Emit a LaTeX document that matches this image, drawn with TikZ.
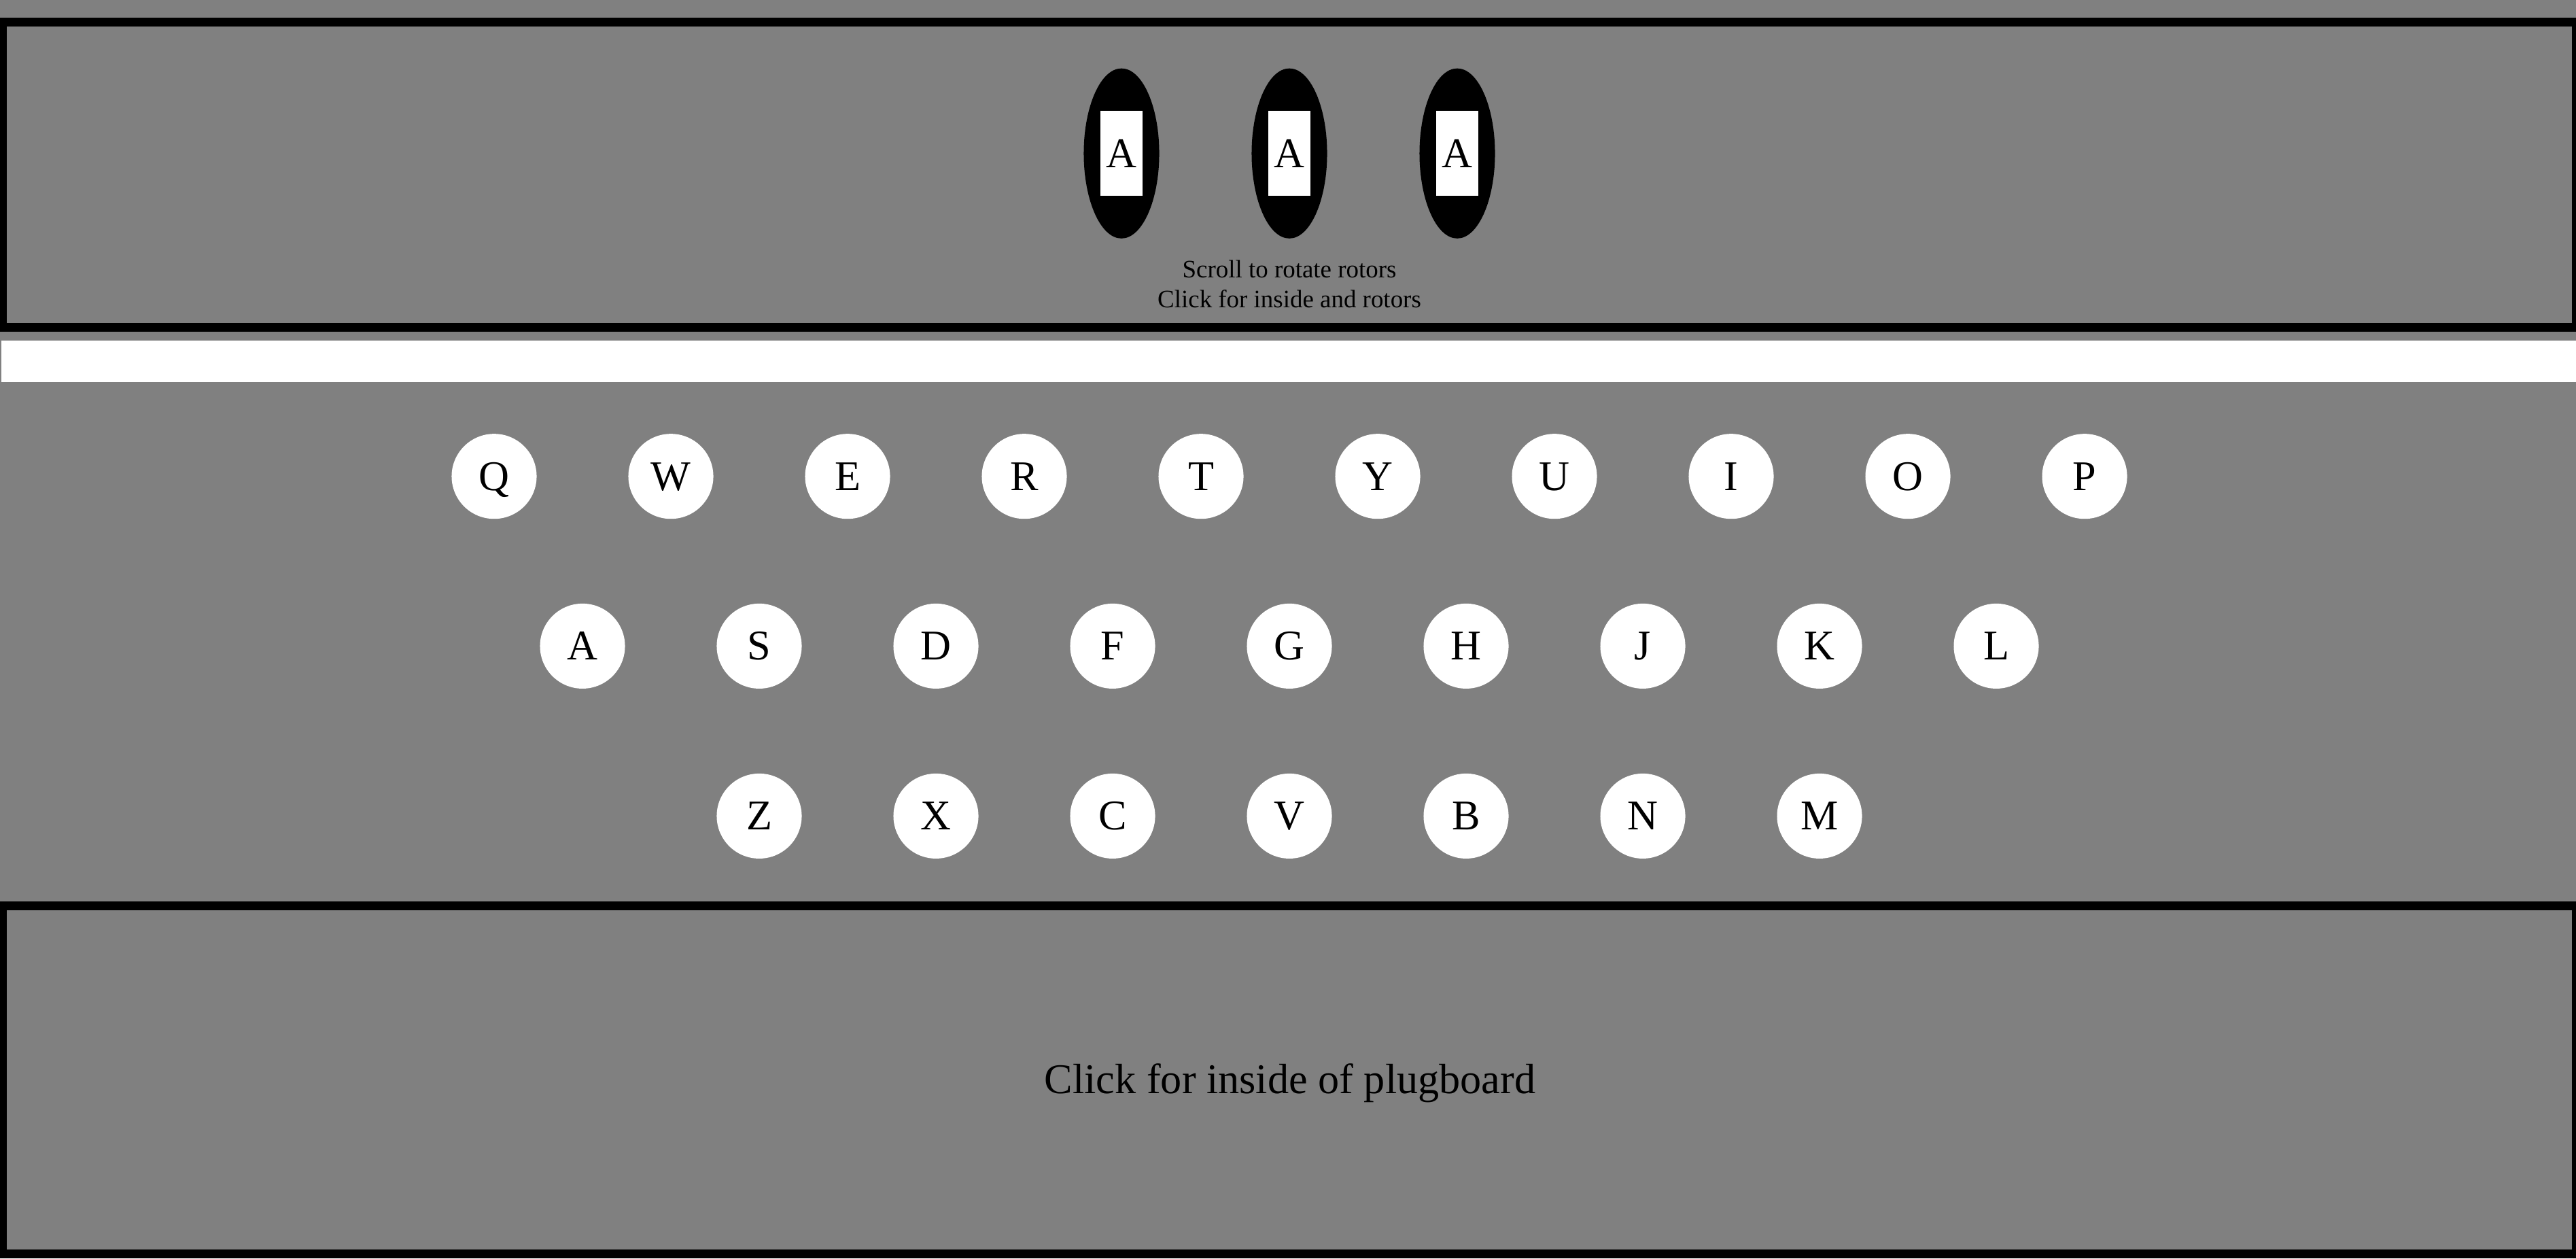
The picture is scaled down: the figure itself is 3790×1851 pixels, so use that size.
\documentclass[tikz,border=0pt]{standalone}
\usepackage{fontspec}
\setmainfont{Liberation Serif}
\usetikzlibrary{shapes.geometric}
\definecolor{bodygray}{RGB}{128,128,128}
\begin{document}
\begin{tikzpicture}[x=0.01cm,y=-0.01cm,
   panel/.style={draw=black,line width=0.13cm},
   rotor/.style={ellipse,fill=black,minimum width=1.11cm,minimum height=2.5cm,inner sep=0pt},
   window/.style={rectangle,fill=white,minimum width=0.62cm,minimum height=1.25cm,inner sep=0pt,
     font=\fontsize{17.7}{20}\selectfont,text height=11.6pt,text depth=0pt},
   key/.style={circle,fill=white,minimum size=1.25cm,inner sep=0pt,
     font=\fontsize{17.7}{20}\selectfont,text height=11.6pt,text depth=0pt},
   hint/.style={font=\fontsize{10.5}{12.6}\selectfont,inner sep=0pt,anchor=base}]
   \fill[bodygray] (0,0) rectangle (3790,1851);
   \useasboundingbox (0,0) rectangle (3790,1851);
   % rotor box
   \draw[panel] (3.5,32.5) rectangle (3790.5,481.3);
   \foreach \n/\x in {L/1650,M/1897,R/2144}{
     \node[rotor] (rotor\n) at (\x,225.7) {};
     \node[window] (window\n) at (rotor\n.center) {A};
   }
   \node[hint] (hintScroll) at (1897,408.8) {Scroll to rotate rotors};
   \node[hint] (hintClick) at (1897,452) {Click for inside and rotors};
   % lamp strip
   \fill[white] (2,501) rectangle (3790,562);
   % keyboard
   \foreach \l [count=\i from 0] in {Q,W,E,R,T,Y,U,I,O,P}
     \node[key] (key\l) at ({727+260*\i},700.7) {\l};
   \foreach \l [count=\i from 0] in {A,S,D,F,G,H,J,K,L}
     \node[key] (key\l) at ({857+260*\i},950.4) {\l};
   \foreach \l [count=\i from 0] in {Z,X,C,V,B,N,M}
     \node[key] (key\l) at ({1117+260*\i},1200.4) {\l};
   % plugboard
   \draw[panel] (3.5,1332.5) rectangle (3790.5,1844.5);
   \node[hint,font=\fontsize{17.7}{20}\selectfont] (plugboard) at (1898,1608) {Click for inside of plugboard};
\end{tikzpicture}
\end{document}
